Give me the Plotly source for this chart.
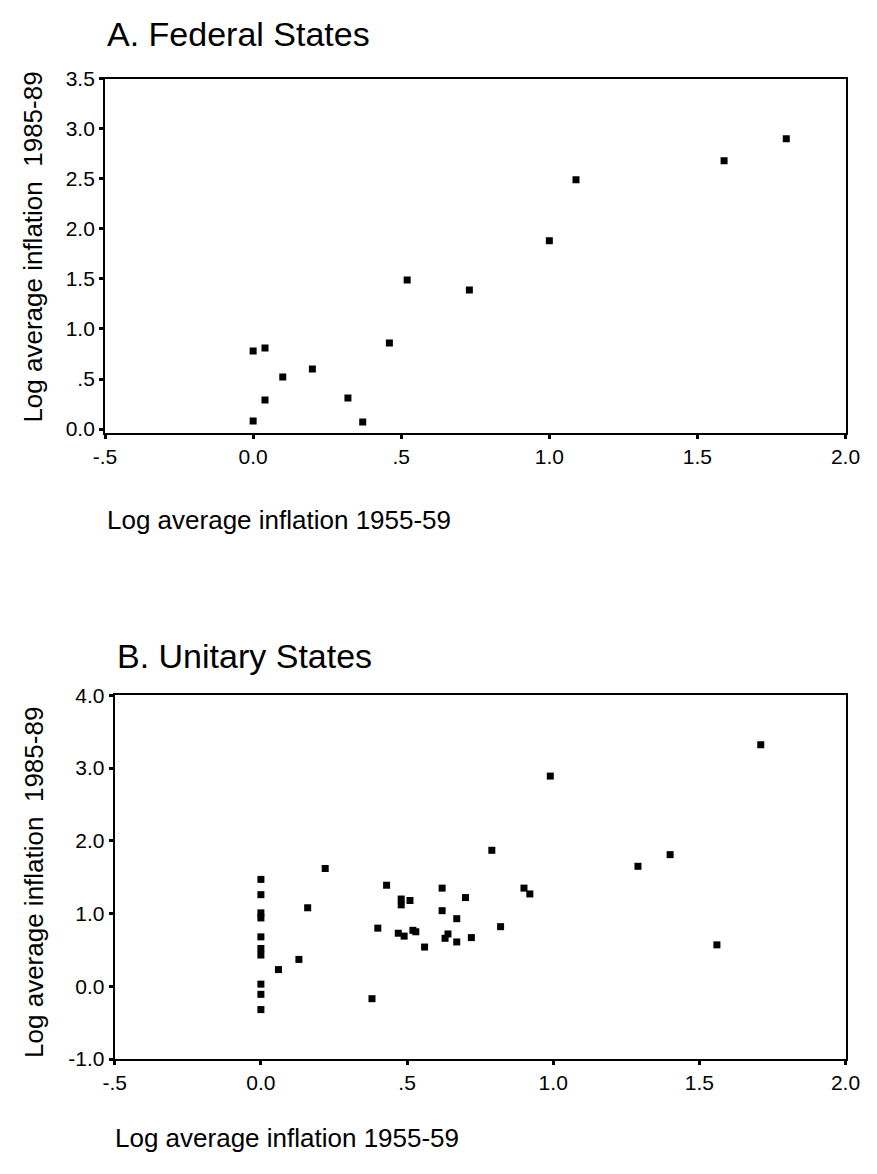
import plotly.graph_objects as go

# Panel A: Federal States
fed_x = [0.0, 0.04, 0.10, 0.20, 0.04, 0.0, 0.32, 0.37, 0.46, 0.52, 0.73, 1.00, 1.09, 1.59, 1.80]
fed_y = [0.78, 0.81, 0.52, 0.60, 0.29, 0.08, 0.31, 0.07, 0.86, 1.49, 1.39, 1.88, 2.49, 2.68, 2.90]

# Panel B: Unitary States
uni_x = [0.0, 0.0, 0.0, 0.0, 0.0, 0.0, 0.0, 0.0, 0.0, 0.0,
         0.06, 0.13, 0.16, 0.22, 0.38, 0.40, 0.43, 0.48, 0.48, 0.51,
         0.47, 0.49, 0.52, 0.53, 0.56, 0.62, 0.62, 0.70, 0.67, 0.64,
         0.63, 0.67, 0.72, 0.79, 0.82, 0.90, 0.92, 0.99, 1.29, 1.40,
         1.56, 1.71]
uni_y = [1.47, 1.26, 1.01, 0.94, 0.68, 0.52, 0.43, 0.03, -0.11, -0.32,
         0.23, 0.37, 1.08, 1.62, -0.17, 0.80, 1.39, 1.20, 1.12, 1.18,
         0.73, 0.69, 0.77, 0.75, 0.54, 1.35, 1.04, 1.22, 0.93, 0.72,
         0.66, 0.61, 0.67, 1.87, 0.82, 1.35, 1.27, 2.89, 1.65, 1.81,
         0.57, 3.32]

x_tickvals = [-0.5, 0.0, 0.5, 1.0, 1.5, 2.0]
x_ticktext = ["-.5", "0.0", ".5", "1.0", "1.5", "2.0"]
a_tickvals = [0.0, 0.5, 1.0, 1.5, 2.0, 2.5, 3.0, 3.5]
a_ticktext = ["0.0", ".5", "1.0", "1.5", "2.0", "2.5", "3.0", "3.5"]
b_tickvals = [-1.0, 0.0, 1.0, 2.0, 3.0, 4.0]
b_ticktext = ["-1.0", "0.0", "1.0", "2.0", "3.0", "4.0"]

W, H = 877, 1174
FONT = "Liberation Sans, Arial, sans-serif"
TICKFONT = dict(family=FONT, size=21, color="black")
TITLEFONT = dict(family=FONT, size=26, color="black")
HEADFONT = dict(family=FONT, size=34, color="black")

fig = go.Figure()
marker = dict(symbol="square", size=7, color="black")
fig.add_trace(go.Scatter(x=fed_x, y=fed_y, mode="markers", marker=marker, xaxis="x", yaxis="y",
                         showlegend=False, hoverinfo="skip"))
fig.add_trace(go.Scatter(x=uni_x, y=uni_y, mode="markers", marker=marker, xaxis="x2", yaxis="y2",
                         showlegend=False, hoverinfo="skip"))

def px_x(p):
    return p / W

def px_y(p):
    return 1 - p / H

axis_common = dict(showline=True, linecolor="black", linewidth=2, mirror=True,
                   ticks="outside", ticklen=4, tickwidth=3, tickcolor="black",
                   showgrid=False, zeroline=False, tickfont=TICKFONT, tickmode="array")

fig.update_layout(
    width=W, height=H,
    margin=dict(l=0, r=0, t=0, b=0),
    paper_bgcolor="white", plot_bgcolor="white",
    xaxis=dict(domain=[px_x(96), px_x(860)], range=[-0.5, 2.0], anchor="y",
               tickvals=x_tickvals, ticktext=x_ticktext, **axis_common),
    yaxis=dict(domain=[px_y(429), px_y(68)], range=[-0.035, 3.5], anchor="x",
               tickvals=a_tickvals, ticktext=a_ticktext, **axis_common),
    xaxis2=dict(domain=[px_x(106), px_x(860)], range=[-0.5, 2.0], anchor="y2",
                tickvals=x_tickvals, ticktext=x_ticktext, **axis_common),
    yaxis2=dict(domain=[px_y(1068), px_y(697)], range=[-1.0, 4.0], anchor="x2",
                tickvals=b_tickvals, ticktext=b_ticktext, **axis_common),
)

ann = [
    dict(text="A. Federal States", x=px_x(96), y=px_y(22), font=HEADFONT),
    dict(text="Log average inflation 1955-59", x=px_x(96), y=px_y(518), font=TITLEFONT),
    dict(text="B. Unitary States", x=px_x(106), y=px_y(657), font=HEADFONT),
    dict(text="Log average inflation 1955-59", x=px_x(104), y=px_y(1148), font=TITLEFONT),
]
for a in ann:
    fig.add_annotation(xref="paper", yref="paper", xanchor="left", yanchor="middle", showarrow=False, **a)

for yc in (240, 888):
    fig.add_annotation(xref="paper", yref="paper", x=px_x(22), y=px_y(yc), xanchor="center", yanchor="middle",
                       textangle=-90, showarrow=False, text="Log average inflation  1985-89", font=TITLEFONT)

post = (
    "document.documentElement.style.margin='0';document.documentElement.style.padding='0';"
    "document.documentElement.style.overflow='hidden';"
    "document.body.style.margin='0';document.body.style.padding='0';document.body.style.overflow='hidden';"
)

fig.write_html("out.html", config={"displayModeBar": False, "staticPlot": True}, post_script=post)
